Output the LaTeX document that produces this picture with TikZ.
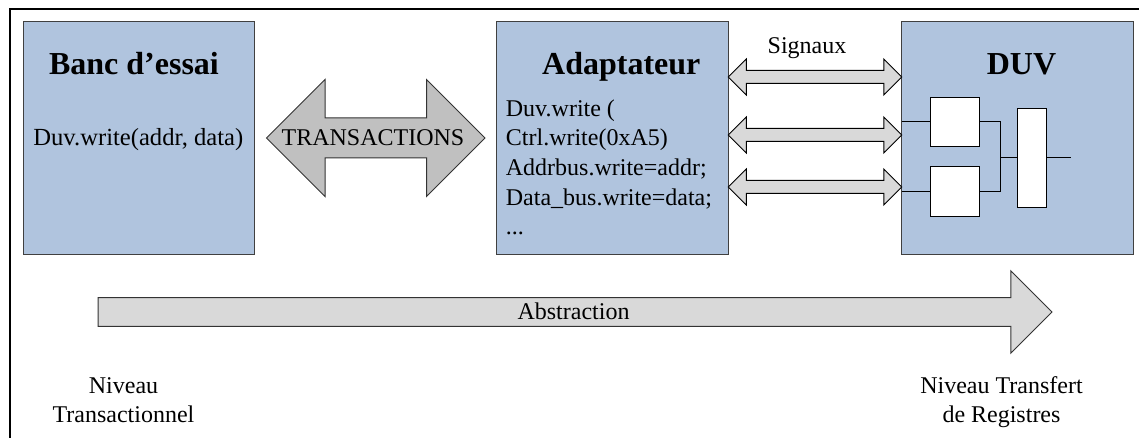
\documentclass[tikz,border=0pt]{standalone}
\usepackage{fontspec}
\setmainfont{Liberation Serif}
\usetikzlibrary{shapes.arrows}
\definecolor{boxblue}{RGB}{176,196,222}
\definecolor{arrowgrey}{RGB}{192,192,192}
\definecolor{signalgrey}{RGB}{217,217,217}
\tikzset{
	bluebox/.style={draw=black!75, line width=1pt, fill=boxblue, minimum width=231.5pt, minimum height=232pt, inner sep=0pt, outer sep=0pt},
	gatebox/.style={draw=black, line width=1pt, fill=white, inner sep=0pt, outer sep=0pt},
	title/.style={font=\fontsize{32}{32}\selectfont\bfseries, anchor=base, inner sep=0pt},
	label/.style={font=\fontsize{24}{29}\selectfont, anchor=base, inner sep=0pt, align=center},
	bigboth/.style={double arrow, draw=black!80, line width=1pt, fill=arrowgrey, inner sep=0pt, outer sep=0pt, text height=39pt, text depth=0pt, minimum height=218.5pt, double arrow head extend=38.5pt},
	signal/.style={double arrow, draw=black, line width=1pt, fill=signalgrey, inner sep=0pt, outer sep=0pt, text height=12pt, text depth=0pt, minimum height=173.5pt, double arrow head extend=11.5pt},
	abstract/.style={single arrow, draw=black!80, line width=1pt, fill=signalgrey, inner sep=0pt, outer sep=0pt, text height=27.7pt, text depth=0pt, minimum height=954pt, single arrow head extend=26.8pt}
}

\begin{document}
\begin{tikzpicture}[x=1pt, y=-1pt]
		%%%%% START %%%%%
		\useasboundingbox (0, 0) rectangle (1139, 438);
		
		\draw[line width=2pt] (9.5, 438) -- (9.5, 9.5) -- (1139, 9.5);
		
		\node[bluebox] (banc) at (138.75, 138) {};
		\node[bluebox] (adapt) at (612.5, 138) {};
		\node[bluebox] (duv) at (1017.25, 138) {};
		
		\node[title] (banctitle) at (134, 75) {Banc d’essai};
		\node[title] (adapttitle) at (621.3, 75) {Adaptateur};
		\node[title] (duvtitle) at (1021.5, 75) {DUV};
		\node[label, font=\fontsize{24.6}{29}\selectfont] (banccall) at (138.3, 145.7) {Duv.write(addr, data)};
		
		\node[label, anchor=base west] (line1) at (505.7, 116.7) {Duv.write (};
		\node[label, anchor=base west] (line2) at (505.7, 146) {Ctrl.write(0xA5)};
		\node[label, anchor=base west] (line3) at (505.7, 176) {Addrbus.write=addr;};
		\node[label, anchor=base west] (line4) at (505.7, 205.5) {Data\_bus.write=data;};
		\node[label, anchor=base west] (line5) at (505.7, 235) {...};
		
		\node[bigboth] (trans) at (375.75, 138) {};
		\node[label] (translabel) at (373, 145.7) {TRANSACTIONS};
		
		\node[signal] (sig1) at (815, 77) {};
		\node[signal] (sig2) at (815, 135) {};
		\node[signal] (sig3) at (815, 187) {};
		\node[label] (siglabel) at (807, 54) {Signaux};
		
		\node[gatebox, minimum width=48.7pt, minimum height=49.4pt] (gate1) at (954.7, 122) {};
		\node[gatebox, minimum width=48.7pt, minimum height=49.4pt] (gate2) at (954.7, 191.7) {};
		\node[gatebox, minimum width=29.3pt, minimum height=98.6pt] (merge) at (1031.7, 158) {};
		\coordinate (joint) at (1000, 158);
		\coordinate (out) at (1070.7, 158);
		
		\draw[line width=1pt] (duv.west |- gate1) -- (gate1);
		\draw[line width=1pt] (duv.west |- gate2) -- (gate2);
		\draw[line width=1pt] (gate1) -| (joint);
		\draw[line width=1pt] (gate2) -| (joint);
		\draw[line width=1pt] (joint) -- (merge);
		\draw[line width=1pt] (merge) -- (out);
		
		\node[abstract, anchor=tail] (abstr) at (98, 312) {};
		\node[label] (abstrlabel) at (573.5, 319.3) {Abstraction};
		
		\node[label] (levela) at (123.5, 422) {Niveau\\Transactionnel};
		\node[label] (levelb) at (1001.5, 422) {Niveau Transfert\\de Registres};
		
		%%%%% END %%%%%
	\end{tikzpicture}
\end{document}
